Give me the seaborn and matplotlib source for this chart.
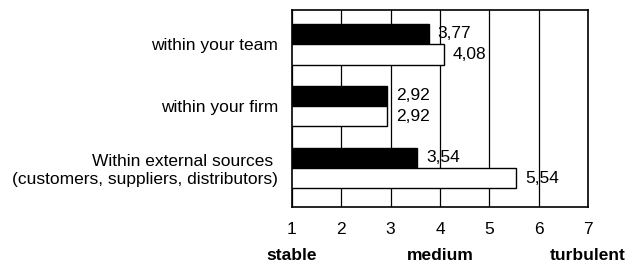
import pandas as pd
import matplotlib
matplotlib.use('Agg')
import matplotlib.pyplot as plt
import seaborn as sns

categories = ['within your team', 'within your firm',
              'Within external sources \n(customers, suppliers, distributors)']
series_names = ['A', 'B']
values_a = [3.77, 2.92, 3.54]
values_b = [4.08, 2.92, 5.54]
scale_ticks = [1, 2, 3, 4, 5, 6, 7]
scale_words = ['stable', 'medium', 'turbulent']
scale_word_pos = [1, 4, 7]

sns.set_style('white')
plt.rcParams['font.family'] = ['Liberation Sans', 'DejaVu Sans']
fs = 12.5

# long-form table for seaborn
df = pd.DataFrame({
    'category': categories * 2,
    'series': [series_names[0]] * 3 + [series_names[1]] * 3,
    'value': values_a + values_b,
})

fig = plt.figure(figsize=(6.4, 2.66), dpi=100)
ax = fig.add_axes([0.456, 0.222, 0.463, 0.740])

sns.barplot(data=df, x='value', y='category', hue='series', orient='h',
            palette=['black', 'white'], edgecolor='black', linewidth=1,
            width=0.66, legend=False, ax=ax)

ax.set_xlim(1, 7)
ax.set_ylim(2.63, -0.55)
ax.set_xticks(scale_ticks)
ax.set_axisbelow(True)
ax.grid(axis='x', color='black', linewidth=0.9)
ax.grid(axis='y', visible=False)
for s in ax.spines.values():
    s.set_visible(True)
    s.set_color('black')
    s.set_linewidth(1.2)
ax.tick_params(axis='x', length=0, pad=11, labelsize=fs, labelcolor='black')
ax.tick_params(axis='y', length=0, pad=10, labelsize=fs, labelcolor='black')
ax.set_xlabel('')
ax.set_ylabel('')

for lab in ax.get_yticklabels():
    lab.set_multialignment('right')

for cont in ax.containers:
    ax.bar_label(cont, labels=[f'{v:.2f}'.replace('.', ',') for v in cont.datavalues],
                 padding=6.5, fontsize=fs, color='black')

# verbal anchors under the scale
for word, pos in zip(scale_words, scale_word_pos):
    xf = ax.transData.transform((pos, 0))[0] / fig.bbox.width
    fig.text(xf, 0.038, word, ha='center', va='center', fontsize=fs,
             fontweight='bold', color='black')

fig.savefig('out.png', dpi=100)
